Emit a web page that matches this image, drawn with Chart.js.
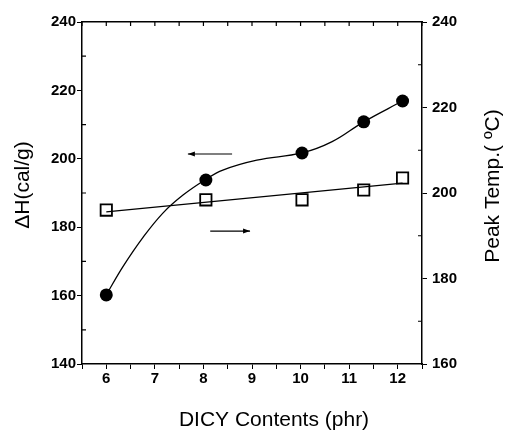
<!DOCTYPE html>
<html>
<head>
<meta charset="utf-8">
<script src="https://cdn.jsdelivr.net/npm/chart.js@4/dist/chart.umd.min.js"></script>
<style>
  body { margin: 0; background: #fff; }
  #wrap { width: 507px; height: 434px; }
</style>
</head>
<body>
<div id="wrap"><canvas id="dsc" width="507" height="434"></canvas></div>
<script>
// DICY contents (phr)
const dicy = [6, 8.05, 10.03, 11.3, 12.1];
// heat of reaction, left axis
const deltaH = [160.2, 193.8, 201.7, 210.8, 216.9];
// peak temperature, right axis
const peakTemp = [196.0, 198.4, 198.4, 200.7, 203.5];
// smooth fit curve through deltaH
const hFitX = [6.0, 6.34, 6.76, 7.17, 7.58, 8.03, 8.4, 9.1, 10.03, 10.65, 11.3, 12.1];
const hFitY = [160.2, 168.4, 177.1, 184.2, 189.4, 193.8, 196.7, 199.6, 201.7, 205.0, 210.8, 216.9];
// straight fit through the peak temperatures (end points)
const tempFitX = [6, 12.1];
const tempFitY = [195.6, 202.3];
// annotation arrows: [x start, x end, y, axis]
const arrowLeft = [8.59, 7.68, 201.4, 'y'];
const arrowRight = [8.14, 8.96, 191.1, 'y2'];

const xTitle = 'DICY Contents (phr)';
const yTitle = 'ΔH(cal/g)';
const y2Title = 'Peak Temp.( ºC)';

const toPts = (xs, ys) => xs.map((x, i) => ({ x: x, y: ys[i] }));

// titles, inside ticks and arrows
const extras = {
  id: 'extras',
  afterDraw(chart) {
    const ctx = chart.ctx;
    const a = chart.chartArea;
    const s = chart.scales;
    ctx.save();
    ctx.strokeStyle = '#000';
    ctx.fillStyle = '#000';
    ctx.lineWidth = 1.2;

    // minor ticks pointing inside
    ctx.beginPath();
    for (let v = 5.5; v <= 12.5; v += 0.5) {
      const px = s.x.getPixelForValue(v);
      ctx.moveTo(px, a.top); ctx.lineTo(px, a.top + 4);
    }
    for (let v = 150; v < 240; v += 20) {
      const py = s.y.getPixelForValue(v);
      ctx.moveTo(a.left, py); ctx.lineTo(a.left + 4, py);
    }
    for (let v = 170; v < 240; v += 20) {
      const py = s.y2.getPixelForValue(v);
      ctx.moveTo(a.right, py); ctx.lineTo(a.right - 4, py);
    }
    ctx.stroke();

    // arrows
    [arrowLeft, arrowRight].forEach(ar => {
      const x0 = s.x.getPixelForValue(ar[0]);
      const x1 = s.x.getPixelForValue(ar[1]);
      const py = s[ar[3]].getPixelForValue(ar[2]);
      const dir = x1 > x0 ? 1 : -1;
      ctx.beginPath();
      ctx.lineWidth = 1.2;
      ctx.moveTo(x0, py); ctx.lineTo(x1, py);
      ctx.stroke();
      ctx.beginPath();
      ctx.moveTo(x1, py);
      ctx.lineTo(x1 - dir * 7, py - 2.5);
      ctx.lineTo(x1 - dir * 7, py + 2.5);
      ctx.closePath();
      ctx.fill();
    });

    // axis titles
    ctx.font = '21px "Liberation Sans", Arial, sans-serif';
    ctx.textAlign = 'center';
    ctx.textBaseline = 'middle';
    ctx.fillText(xTitle, 274, 420);

    ctx.save();
    ctx.translate(23, 185);
    ctx.rotate(-Math.PI / 2);
    ctx.fillText(yTitle, 0, 0);
    ctx.restore();

    ctx.save();
    ctx.translate(493, 186);
    ctx.rotate(-Math.PI / 2);
    ctx.fillText(y2Title, 0, 0);
    ctx.restore();

    ctx.restore();
  }
};

const tickFont = { family: '"Liberation Sans", Arial, sans-serif', size: 15, weight: 'bold' };

new Chart(document.getElementById('dsc'), {
  type: 'line',
  data: {
    datasets: [
      {
        label: 'ΔH fit',
        data: toPts(hFitX, hFitY),
        yAxisID: 'y',
        borderColor: '#000',
        borderWidth: 1.3,
        pointRadius: 0,
        tension: 0.4
      },
      {
        label: 'ΔH',
        data: toPts(dicy, deltaH),
        yAxisID: 'y',
        showLine: false,
        pointStyle: 'circle',
        pointRadius: 6.5,
        pointBorderWidth: 0,
        backgroundColor: '#000'
      },
      {
        label: 'Peak temp. fit',
        data: toPts(tempFitX, tempFitY),
        yAxisID: 'y2',
        borderColor: '#000',
        borderWidth: 1.3,
        pointRadius: 0
      },
      {
        label: 'Peak temp.',
        data: toPts(dicy, peakTemp),
        yAxisID: 'y2',
        showLine: false,
        pointStyle: 'rect',
        pointRadius: 8,
        pointBorderWidth: 1.8,
        borderColor: '#000',
        backgroundColor: '#fff'
      }
    ]
  },
  options: {
    responsive: false,
    animation: false,
    layout: { padding: 0 },
    plugins: {
      legend: { display: false },
      tooltip: { enabled: false }
    },
    scales: {
      x: {
        type: 'linear',
        position: 'bottom',
        min: 5.5,
        max: 12.5,
        afterFit: (sc) => { sc.height = 70; },
        border: { display: true, color: '#000', width: 1.5 },
        grid: { drawOnChartArea: false, drawTicks: true, tickLength: 5, color: '#000' },
        ticks: {
          stepSize: 0.5,
          autoSkip: false,
          maxRotation: 0,
          padding: 1,
          color: '#000',
          font: tickFont,
          callback: (v) => (Number.isInteger(v) ? v : '')
        }
      },
      x2: {
        type: 'linear',
        position: 'top',
        min: 5.5,
        max: 12.5,
        afterFit: (sc) => { sc.height = 22; },
        border: { display: true, color: '#000', width: 1.5 },
        grid: { display: false },
        ticks: { display: false }
      },
      y: {
        position: 'left',
        min: 140,
        max: 240,
        afterFit: (sc) => { sc.width = 82; },
        border: { display: true, color: '#000', width: 1.5 },
        grid: { drawOnChartArea: false, tickLength: 5, color: '#000' },
        ticks: { stepSize: 20, padding: 1, color: '#000', font: tickFont }
      },
      y2: {
        position: 'right',
        min: 160,
        max: 240,
        afterFit: (sc) => { sc.width = 85; },
        border: { display: true, color: '#000', width: 1.5 },
        grid: { drawOnChartArea: false, tickLength: 5, color: '#000' },
        ticks: { stepSize: 20, padding: 5, color: '#000', font: tickFont }
      }
    }
  },
  plugins: [extras]
});
</script>
</body>
</html>
